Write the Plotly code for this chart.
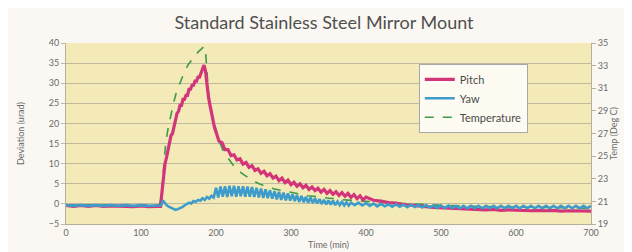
import plotly.graph_objects as go

# ---------------- data ----------------
pitch_time = [0, 10, 20, 30, 40, 50, 60, 70, 80, 90, 100, 110, 120, 126,
              128, 130, 132, 134, 136, 138, 140, 142, 144, 146, 148, 150, 152, 154,
              156, 158, 160, 162, 164, 166, 168, 170, 172, 174, 176, 178, 180, 182,
              184, 186, 188, 190, 192, 194, 196, 198,
              200, 204, 208, 212, 216, 220, 224, 228, 232, 236, 240, 244, 248, 252,
              256, 260, 264, 268, 272, 276, 280, 284, 288, 292, 296, 300, 304, 308,
              312, 316, 320, 324, 328, 332, 336, 340, 344, 348, 352, 356, 360, 364,
              368, 372, 376, 380, 384, 388, 392, 396, 400,
              410, 420, 430, 440, 450, 460, 470, 480, 490, 500, 510, 520, 530, 540,
              550, 560, 570, 580, 590, 600, 610, 620, 630, 640, 650, 660, 670, 680,
              690, 700]
pitch_dev = [-0.4, -0.6, -0.4, -0.6, -0.4, -0.6, -0.5, -0.6, -0.5, -0.7, -0.5, -0.7, -0.6, -0.6,
             3.0, 7.0, 10.0, 11.5, 13.5, 15.0, 17.0, 17.5, 19.5, 20.5, 22.5, 23.0, 24.5, 24.5,
             26.0, 26.0, 27.0, 27.0, 28.5, 28.5, 29.5, 29.5, 30.5, 30.5, 31.5, 31.5, 32.5, 33.0,
             34.5, 33.0, 29.0, 26.5, 24.5, 22.5, 21.0, 19.0,
             17.9, 15.6, 15.2, 13.5, 13.5, 12.0, 12.2, 10.9, 11.2, 9.9, 10.3, 9.1, 9.5, 8.3,
             8.7, 7.6, 8.1, 7.0, 7.5, 6.4, 6.9, 5.8, 6.4, 5.3, 5.9, 4.8, 5.4, 4.4, 5.0,
             4.0, 4.6, 3.6, 4.2, 3.3, 3.9, 2.9, 3.6, 2.6, 3.3, 2.4, 3.0, 2.1, 2.8, 1.9,
             2.6, 1.6, 2.3, 1.3, 2.0, 1.0, 1.7,
             0.9, 0.7, 0.3, 0.2, -0.2, -0.3, -0.6, -0.7, -0.9, -1.0, -1.1, -1.2, -1.2, -1.4,
             -1.3, -1.5, -1.4, -1.6, -1.5, -1.6, -1.5, -1.7, -1.6, -1.7, -1.6, -1.8, -1.7, -1.8,
             -1.7, -1.8]

yaw_time = [0, 10, 20, 30, 40, 50, 60, 70, 80, 90, 100, 110, 120, 127,
            129, 131, 134, 137, 140, 143, 146, 149, 152, 155, 158, 161, 164, 167,
            170, 173, 176, 179, 182, 185, 188, 191, 194, 197] \
    + list(range(200, 381, 3)) + list(range(385, 701, 5))
yaw_dev = [-0.3, -0.5, -0.3, -0.5, -0.3, -0.5, -0.3, -0.5, -0.3, -0.5, -0.3, -0.5, -0.4, -0.4,
           0.9, 0.3, -0.3, -0.7, -1.0, -1.3, -1.5, -1.3, -1.1, -0.8, -0.4, -0.1, 0.3, 0.1,
           0.7, 0.5, 1.0, 0.8, 1.4, 1.0, 1.7, 1.3, 2.0, 1.6,
           # 200 .. 380 step 3
           4.0, 1.6, 4.3, 1.8, 4.4, 1.7, 4.5, 1.9, 4.5, 1.8, 4.4, 1.9, 4.4, 1.8, 4.3, 1.8,
           4.2, 1.7, 4.0, 1.6, 3.8, 1.5, 3.6, 1.4, 3.4, 1.3, 3.2, 1.1, 3.0, 1.0, 2.8, 0.9,
           2.6, 0.8, 2.4, 0.7, 2.2, 0.5, 2.0, 0.4, 1.8, 0.3, 1.6, 0.2, 1.4, 0.1, 1.2, 0.0,
           1.0, -0.1, 0.9, -0.2, 0.8, -0.3, 0.6, -0.3, 0.5, -0.4, 0.4, -0.4, 0.3,
           # 385 .. 700 step 5
           -0.3, 0.3, -0.4, 0.2, -0.5, 0.1, -0.6, 0.0, -0.6, -0.1, -0.7, -0.1, -0.7, -0.2,
           -0.8, -0.2, -0.8, -0.3, -0.9, -0.3, -0.9, -0.4, -1.0, -0.4, -1.0, -0.4, -1.0, -0.5,
           -1.1, -0.5, -1.1, -0.5, -1.1, -0.5, -1.1, -0.5, -1.1, -0.5, -1.1, -0.5, -1.1, -0.5,
           -1.1, -0.5, -1.1, -0.5, -1.1, -0.5, -1.1, -0.5, -1.1, -0.5, -1.1, -0.5, -1.1, -0.5,
           -1.1, -0.5, -1.1, -0.5, -1.1, -0.5, -1.1, -0.5]

temp_time = [0, 50, 100, 125, 127, 130, 133, 136, 140, 143, 147, 152, 157, 163, 170,
             176, 181, 184, 186, 190, 196, 200, 205, 210, 216, 224, 234, 245, 256, 267,
             278, 290, 300, 323, 345, 367, 400, 450, 500, 550, 600, 650, 700]
temp_c = [20.7, 20.7, 20.7, 20.7, 21.5, 24.3, 26.2, 27.4, 28.8, 29.6, 30.6, 31.5, 32.3, 33.1, 33.7,
          34.2, 34.5, 34.7, 34.3, 30.6, 28.3, 27.4, 26.2, 25.4, 24.8, 24.1, 23.5, 23.0, 22.6, 22.3,
          22.1, 21.9, 21.8, 21.5, 21.3, 21.15, 21.0, 20.8, 20.65, 20.55, 20.5, 20.45, 20.4]

x_ticks = [0, 100, 200, 300, 400, 500, 600, 700]
dev_ticks = [-5, 0, 5, 10, 15, 20, 25, 30, 35, 40]
temp_ticks = [19, 21, 23, 25, 27, 29, 31, 33, 35]

# ---------------- figure ----------------
PITCH = "#d2357a"
YAW = "#3d9ccb"
TEMP = "#3c9a4c"
FONT = "Lato"
TXT = "#6a6a6a"

fig = go.Figure()
# temperature on the base axis (drawn underneath)
fig.add_trace(go.Scatter(x=temp_time, y=temp_c, name="Temperature", mode="lines",
                         line=dict(color=TEMP, width=1.6, dash="dash"),
                         yaxis="y", legendrank=3))
fig.add_trace(go.Scatter(x=pitch_time, y=pitch_dev, name="Pitch", mode="lines",
                         line=dict(color=PITCH, width=3.2),
                         yaxis="y2", legendrank=1))
fig.add_trace(go.Scatter(x=yaw_time, y=yaw_dev, name="Yaw", mode="lines",
                         line=dict(color=YAW, width=2.6),
                         yaxis="y2", legendrank=2))

fig.update_layout(
    width=632, height=252,
    margin=dict(l=58, r=49, t=35, b=36),
    paper_bgcolor="#fbf8f3",
    plot_bgcolor="#f4eab7",
    font=dict(family=FONT, color=TXT, size=9),
    showlegend=True,
    title=dict(text="Standard Stainless Steel Mirror Mount", x=0.5, xanchor="center",
               y=0.94, yanchor="middle",
               font=dict(family=FONT, size=18, color="#505050")),
    xaxis=dict(range=[0, 700], tickvals=x_ticks, showgrid=False, zeroline=False,
               showline=True, linecolor="#b5b09a", linewidth=1,
               ticks="", tickfont=dict(size=9, color=TXT),
               title=dict(text="Time (min)", font=dict(size=9, color=TXT), standoff=4)),
    yaxis=dict(range=[19, 35], tickvals=temp_ticks, side="right", showgrid=False,
               zeroline=False, showline=True, linecolor="#b5b09a", linewidth=1,
               ticks="outside", ticklen=4, tickcolor="#b5b09a",
               tickfont=dict(size=9, color=TXT),
               title=dict(text="Temp (Deg C)", font=dict(size=9, color=TXT), standoff=2)),
    yaxis2=dict(range=[-5, 40], tickvals=dev_ticks, side="left", overlaying="y",
                showgrid=True, gridcolor="#bfb9a0", gridwidth=1, zeroline=False,
                showline=True, linecolor="#b5b09a", linewidth=1,
                ticks="outside", ticklen=4, tickcolor="#bfb9a0",
                tickfont=dict(size=9, color=TXT),
                title=dict(text="Deviation (urad)", font=dict(size=9, color=TXT), standoff=22)),
    legend=dict(x=0.672, y=0.885, xanchor="left", yanchor="top",
                bgcolor="#fdfbf2", bordercolor="#a8a8a8", borderwidth=1,
                font=dict(family=FONT, size=11, color="#4a4a4a"),
                tracegroupgap=0, itemwidth=30),
)

fig.write_html("out.html")
